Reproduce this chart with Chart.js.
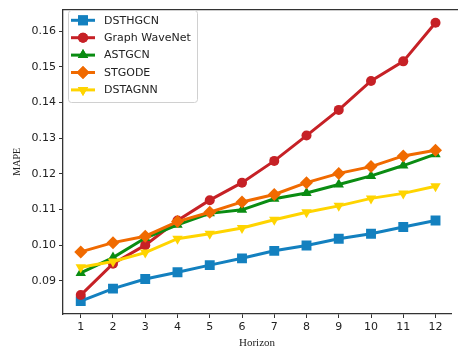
<!DOCTYPE html>
<html>
<head>
<meta charset="utf-8">
<script src="https://cdn.jsdelivr.net/npm/chart.js@4.4.1/dist/chart.umd.min.js"></script>
<style>
    html, body { margin: 0; padding: 0; background: #ffffff; }
</style>
</head>
<body>
<canvas id="mapeChart" width="458" height="352"></canvas>
<script>
// Datos (MAPE por horizonte)
const horizons = [1, 2, 3, 4, 5, 6, 7, 8, 9, 10, 11, 12];
const yTicks = [0.09, 0.10, 0.11, 0.12, 0.13, 0.14, 0.15, 0.16];
const modelNames = ["DSTHGCN", "Graph WaveNet", "ASTGCN", "STGODE", "DSTAGNN"];

const dsthgcn = [0.0843, 0.0878, 0.0905, 0.0924, 0.0944, 0.0963, 0.0984, 0.0999, 0.1018, 0.1032, 0.1051, 0.1069];
const graphWaveNet = [0.0860, 0.0948, 0.1000, 0.1069, 0.1126, 0.1175, 0.1236, 0.1307, 0.1379, 0.1460, 0.1515, 0.1623];
const astgcn = [0.0922, 0.0965, 0.1020, 0.1057, 0.1089, 0.1099, 0.1130, 0.1146, 0.1170, 0.1194, 0.1223, 0.1255];
const stgode = [0.0981, 0.1007, 0.1025, 0.1066, 0.1092, 0.1121, 0.1142, 0.1175, 0.1201, 0.1220, 0.1250, 0.1266];
const dstagnn = [0.0938, 0.0954, 0.0979, 0.1018, 0.1032, 0.1048, 0.1071, 0.1092, 0.1110, 0.1131, 0.1145, 0.1165];

const seriesValues = [dsthgcn, graphWaveNet, astgcn, stgode, dstagnn];
const colors = ["#1380bf", "#c62126", "#0a8c12", "#f06a00", "#ffd400"];
const markers = [
    { style: "rect", radius: 7, rotation: 0 },
    { style: "circle", radius: 5, rotation: 0 },
    { style: "triangle", radius: 6, rotation: 0 },
    { style: "rectRot", radius: 6.5, rotation: 0 },
    { style: "triangle", radius: 6, rotation: 180 },
];

const axisColor = "#333333";
const textColor = "#222222";
const tickFont = { family: "'DejaVu Sans', sans-serif", size: 11 };

const datasets = modelNames.map(function (name, i) {
    return {
        label: name,
        data: horizons.map((h, j) => ({ x: h, y: seriesValues[i][j] })),
        borderColor: colors[i],
        backgroundColor: colors[i],
        borderWidth: 3,
        pointStyle: markers[i].style,
        pointRadius: markers[i].radius,
        pointRotation: markers[i].rotation,
        pointBorderWidth: 0,
        pointBackgroundColor: colors[i],
        tension: 0,
        // matplotlib: la ultima serie queda encima
        order: modelNames.length - 1 - i,
    };
});

// Marco superior y leyenda estilo matplotlib dentro del area
const framePlugin = {
    id: "framePlugin",
    afterDraw: function (chart) {
        const ctx = chart.ctx;
        const area = chart.chartArea;
        ctx.save();
        ctx.strokeStyle = axisColor;
        ctx.lineWidth = 1.3;
        ctx.beginPath();
        ctx.moveTo(area.left, area.top);
        ctx.lineTo(chart.width, area.top);
        ctx.stroke();

        // caja de leyenda
        ctx.beginPath();
        ctx.roundRect(68.5, 10.5, 129, 92, 3);
        ctx.fillStyle = "rgba(255,255,255,0.85)";
        ctx.fill();
        ctx.strokeStyle = "#d0d0d0";
        ctx.lineWidth = 1;
        ctx.stroke();

        chart.data.datasets.forEach(function (ds, i) {
            const cy = 20.3 + i * 17.4;
            ctx.strokeStyle = ds.borderColor;
            ctx.lineWidth = 3;
            ctx.beginPath();
            ctx.moveTo(71, cy);
            ctx.lineTo(95, cy);
            ctx.stroke();
            ctx.fillStyle = ds.borderColor;
            Chart.helpers.drawPoint(ctx, {
                pointStyle: ds.pointStyle,
                rotation: ds.pointRotation,
                radius: ds.pointRadius,
                borderWidth: 0,
            }, 83, cy);
            ctx.fill();
            ctx.fillStyle = textColor;
            ctx.font = "11px 'DejaVu Sans', sans-serif";
            ctx.textBaseline = "middle";
            ctx.textAlign = "left";
            ctx.fillText(ds.label, 104, cy + 0.5);
        });
        ctx.restore();
    },
};

new Chart(document.getElementById("mapeChart"), {
    type: "line",
    data: { datasets: datasets },
    options: {
        responsive: false,
        animation: false,
        devicePixelRatio: 1,
        layout: { padding: { top: 5, right: 0, bottom: 0, left: 0 } },
        plugins: {
            legend: { display: false },
            tooltip: { enabled: false },
        },
        scales: {
            x: {
                type: "linear",
                min: 0.45,
                max: 12.48,
                afterBuildTicks: function (scale) {
                    scale.ticks = horizons.map((v) => ({ value: v }));
                },
                afterFit: function (scale) {
                    scale.height = 38;
                },
                ticks: {
                    font: tickFont,
                    color: textColor,
                    padding: 3,
                    maxRotation: 0,
                    autoSkip: false,
                },
                grid: {
                    drawOnChartArea: false,
                    tickLength: 4,
                    color: axisColor,
                },
                border: { color: axisColor, width: 1.3 },
                title: {
                    display: true,
                    text: "Horizon",
                    color: textColor,
                    font: { family: "'Liberation Serif', serif", size: 11 },
                    padding: { top: 0, bottom: 2 },
                },
            },
            y: {
                type: "linear",
                min: 0.0807,
                max: 0.166,
                afterBuildTicks: function (scale) {
                    scale.ticks = yTicks.map((v) => ({ value: v }));
                },
                afterFit: function (scale) {
                    scale.width = 63;
                },
                ticks: {
                    font: tickFont,
                    color: textColor,
                    padding: 3,
                    callback: function (value) {
                        return value.toFixed(2);
                    },
                },
                grid: {
                    drawOnChartArea: false,
                    tickLength: 4,
                    color: axisColor,
                },
                border: { color: axisColor, width: 1.3 },
                title: {
                    display: true,
                    text: "MAPE",
                    color: textColor,
                    font: { family: "'Liberation Serif', serif", size: 10 },
                    padding: { top: 11, bottom: 0 },
                },
            },
        },
    },
    plugins: [framePlugin],
});
</script>
</body>
</html>
